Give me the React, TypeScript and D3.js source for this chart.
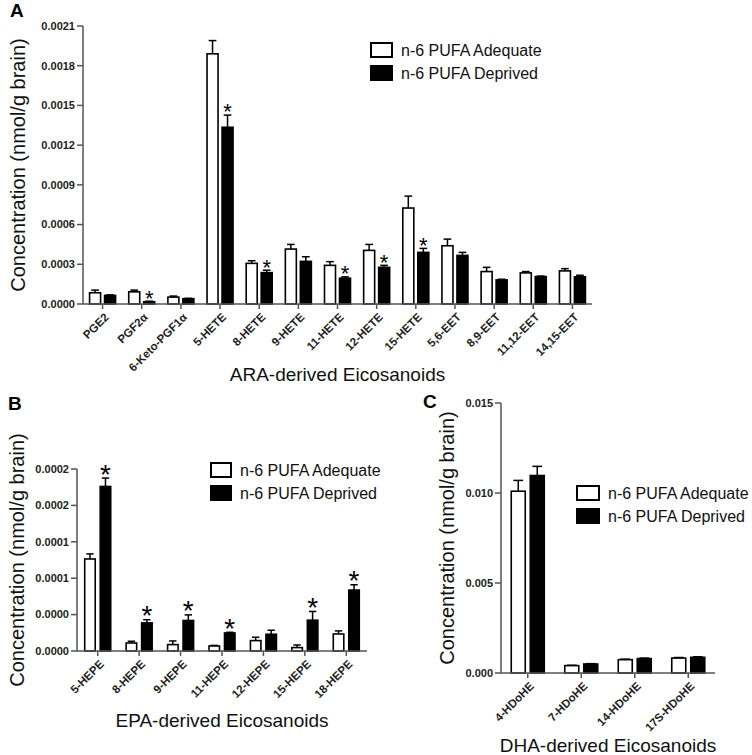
import React from 'react';
import * as d3 from 'd3';

// ---------- Panel A data (ARA-derived) ----------
const aCategories = ['PGE2', 'PGF2α', '6-Keto-PGF1α', '5-HETE', '8-HETE', '9-HETE', '11-HETE', '12-HETE', '15-HETE', '5,6-EET', '8,9-EET', '11,12-EET', '14,15-EET'];
const aAdequate = [8.5e-5, 9.2e-5, 5.2e-5, 1.89e-3, 3.07e-4, 4.15e-4, 2.92e-4, 4.05e-4, 7.25e-4, 4.4e-4, 2.45e-4, 2.35e-4, 2.5e-4];
const aAdequateErr = [2e-5, 1.3e-5, 8e-6, 1.0e-4, 2e-5, 3.5e-5, 2.8e-5, 4.5e-5, 9e-5, 5e-5, 3.2e-5, 1e-5, 1.7e-5];
const aDeprived = [6.5e-5, 1.7e-5, 4e-5, 1.335e-3, 2.37e-4, 3.22e-4, 1.95e-4, 2.77e-4, 3.9e-4, 3.67e-4, 1.82e-4, 2.07e-4, 2.05e-4];
const aDeprivedErr = [4e-6, 4e-6, 3e-6, 9.2e-5, 1.8e-5, 3.5e-5, 1e-5, 1.5e-5, 3e-5, 2.3e-5, 5e-6, 4e-6, 1.2e-5];
const aStars = [false, true, false, true, true, false, true, true, true, false, false, false, false];
const aTicks = [0, 0.0003, 0.0006, 0.0009, 0.0012, 0.0015, 0.0018, 0.0021];
const aTickLabels = ['0.0000', '0.0003', '0.0006', '0.0009', '0.0012', '0.0015', '0.0018', '0.0021'];

// ---------- Panel B data (EPA-derived) ----------
const bCategories = ['5-HEPE', '8-HEPE', '9-HEPE', '11-HEPE', '12-HEPE', '15-HEPE', '18-HEPE'];
const bAdequate = [1.264e-4, 1.1e-5, 8.8e-6, 6.9e-6, 1.43e-5, 4.7e-6, 2.34e-5];
const bAdequateErr = [7e-6, 2.4e-6, 5e-6, 0.8e-6, 4.6e-6, 3.6e-6, 4.2e-6];
const bDeprived = [2.26e-4, 3.86e-5, 4.19e-5, 2.48e-5, 2.3e-5, 4.23e-5, 8.37e-5];
const bDeprivedErr = [1.16e-5, 4.4e-6, 7.7e-6, 0.9e-6, 5.5e-6, 1.2e-5, 7.3e-6];
const bStars = [true, true, true, true, false, true, true];
const bTicks = [0, 0.00005, 0.0001, 0.00015, 0.0002, 0.00025];
const bTickLabels = ['0.0000', '0.0000', '0.0001', '0.0001', '0.0002', '0.0002'];

// ---------- Panel C data (DHA-derived) ----------
const cCategories = ['4-HDoHE', '7-HDoHE', '14-HDoHE', '17S-HDoHE'];
const cAdequate = [0.0101, 0.00041, 0.00074, 0.00083];
const cAdequateErr = [0.0006, 0.00002, 0.00003, 0.00003];
const cDeprived = [0.01097, 0.0005, 0.0008, 0.00087];
const cDeprivedErr = [0.00051, 0.00002, 0.00003, 0.00003];
const cStars = [false, false, false, false];
const cTicks = [0, 0.005, 0.01, 0.015];
const cTickLabels = ['0.000', '0.005', '0.010', '0.015'];

const seriesNames = ['n-6 PUFA Adequate', 'n-6 PUFA Deprived'];

const FONT = 'Liberation Sans, Arial, Helvetica, sans-serif';
const AXIS = '#555';

type PanelProps = {
  letter: string;
  letterX: number;
  letterY: number;
  cats: string[];
  adequate: number[];
  adequateErr: number[];
  deprived: number[];
  deprivedErr: number[];
  stars: boolean[];
  ticks: number[];
  tickLabels: string[];
  x0: number;
  x1: number;
  yTop: number;
  yBottom: number;
  barW: number;
  gap: number;
  starSize: number;
  yLabelX: number;
  xTitle: string;
  xTitleY: number;
  legendX: number;
  legendY: number;
  legendBoxW: number;
  legendBoxH: number;
};

function Panel(p: PanelProps) {
  const x = d3.scaleBand<string>().domain(p.cats).range([p.x0, p.x1]).paddingInner(0).paddingOuter(0);
  const y = d3.scaleLinear().domain([0, p.ticks[p.ticks.length - 1]]).range([p.yBottom, p.yTop]);
  const inner = d3.scaleBand<number>().domain([0, 1]).range([0, 2 * p.barW + p.gap]).paddingInner(p.gap / (p.barW + p.gap));
  const pairW = 2 * p.barW + p.gap;
  const series = [
    { vals: p.adequate, errs: p.adequateErr, fill: '#fff' },
    { vals: p.deprived, errs: p.deprivedErr, fill: '#000' },
  ];
  const yMid = (p.yTop + p.yBottom) / 2;
  return (
    <g fontFamily={FONT}>
      <text x={p.letterX} y={p.letterY} fontSize={19} fontWeight="bold" fill="#000">{p.letter}</text>
      {/* y axis label */}
      <text transform={`translate(${p.yLabelX},${yMid}) rotate(-90)`} textAnchor="middle" fontSize={20} fill="#111">
        Concentration (nmol/g brain)
      </text>
      {/* bars */}
      {p.cats.map((c, i) => {
        const cx = (x(c) as number) + x.bandwidth() / 2;
        const start = cx - pairW / 2;
        return (
          <g key={c}>
            {series.map((s, k) => {
              const bx = start + (inner(k) as number);
              const bw = inner.bandwidth();
              const top = y(s.vals[i]);
              const errTop = y(s.vals[i] + s.errs[i]);
              const mx = bx + bw / 2;
              return (
                <g key={k}>
                  <line x1={mx} x2={mx} y1={top} y2={errTop} stroke="#000" strokeWidth={1.5} />
                  <line x1={mx - bw * 0.35} x2={mx + bw * 0.35} y1={errTop} y2={errTop} stroke="#000" strokeWidth={1.5} />
                  <rect x={bx} y={top} width={bw} height={p.yBottom - top} fill={s.fill} stroke="#000" strokeWidth={1.6} />
                  {k === 1 && p.stars[i] && (
                    <text x={mx} y={errTop + p.starSize * 0.2} textAnchor="middle" fontSize={p.starSize} fill="#000">*</text>
                  )}
                </g>
              );
            })}
          </g>
        );
      })}
      {/* y axis */}
      <line x1={p.x0} x2={p.x0} y1={p.yTop} y2={p.yBottom} stroke={AXIS} strokeWidth={1.5} />
      {p.ticks.map((t, i) => (
        <g key={i}>
          <line x1={p.x0 - 6} x2={p.x0} y1={y(t)} y2={y(t)} stroke={AXIS} strokeWidth={1.5} />
          <text x={p.x0 - 8} y={y(t)} dy="0.35em" textAnchor="end" fontSize={11} fontWeight="bold" fill="#222">{p.tickLabels[i]}</text>
        </g>
      ))}
      {/* x axis */}
      <line x1={p.x0} x2={p.x1} y1={p.yBottom} y2={p.yBottom} stroke={AXIS} strokeWidth={1.5} />
      {p.cats.map((c) => {
        const cx = (x(c) as number) + x.bandwidth() / 2;
        return (
          <g key={c}>
            <line x1={cx} x2={cx} y1={p.yBottom} y2={p.yBottom + 5} stroke={AXIS} strokeWidth={1.5} />
            <text transform={`translate(${cx + 2},${p.yBottom + 9}) rotate(-45)`} textAnchor="end" dy="0.6em" fontSize={11.5} fontWeight="bold" fill="#222">{c}</text>
          </g>
        );
      })}
      <text x={(p.x0 + p.x1) / 2} y={p.xTitleY} textAnchor="middle" fontSize={19} fill="#111">{p.xTitle}</text>
      {/* legend */}
      {seriesNames.map((n, k) => (
        <g key={n} transform={`translate(${p.legendX},${p.legendY + k * 23})`}>
          <rect x={0} y={0} width={p.legendBoxW} height={p.legendBoxH} fill={k === 0 ? '#fff' : '#000'} stroke="#000" strokeWidth={2} />
          <text x={p.legendBoxW + 9} y={p.legendBoxH / 2} dy="0.36em" fontSize={16} fill="#111">{n}</text>
        </g>
      ))}
    </g>
  );
}

export default function App() {
  return (
    <svg width={752} height={755} style={{ position: 'absolute', left: 0, top: 0, background: '#fff' }}>
      <rect width={752} height={755} fill="#fff" />
      <Panel
        letter="A" letterX={10} letterY={17}
        cats={aCategories} adequate={aAdequate} adequateErr={aAdequateErr} deprived={aDeprived} deprivedErr={aDeprivedErr} stars={aStars}
        ticks={aTicks} tickLabels={aTickLabels}
        x0={83} x1={592} yTop={26} yBottom={304} barW={11} gap={4} starSize={22}
        yLabelX={25} xTitle="ARA-derived Eicosanoids" xTitleY={381}
        legendX={371} legendY={43} legendBoxW={21} legendBoxH={14}
      />
      <Panel
        letter="B" letterX={8} letterY={410}
        cats={bCategories} adequate={bAdequate} adequateErr={bAdequateErr} deprived={bDeprived} deprivedErr={bDeprivedErr} stars={bStars}
        ticks={bTicks} tickLabels={bTickLabels}
        x0={77} x1={367} yTop={469} yBottom={651} barW={10.5} gap={5} starSize={28}
        yLabelX={24} xTitle="EPA-derived Eicosanoids" xTitleY={727}
        legendX={211} legendY={463} legendBoxW={20} legendBoxH={14}
      />
      <Panel
        letter="C" letterX={423} letterY={408}
        cats={cCategories} adequate={cAdequate} adequateErr={cAdequateErr} deprived={cDeprived} deprivedErr={cDeprivedErr} stars={cStars}
        ticks={cTicks} tickLabels={cTickLabels}
        x0={501} x1={715} yTop={403} yBottom={673} barW={14} gap={5} starSize={28}
        yLabelX={454} xTitle="DHA-derived Eicosanoids" xTitleY={752}
        legendX={577} legendY={486} legendBoxW={22} legendBoxH={14}
      />
    </svg>
  );
}
